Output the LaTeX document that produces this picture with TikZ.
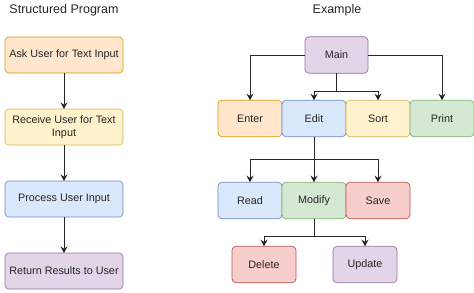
\documentclass[tikz,border=0pt]{standalone}
\usepackage{fontspec}
\setmainfont{Liberation Sans}
\usetikzlibrary{positioning, arrows.meta}

\definecolor{orangefill}{HTML}{FFE6CC}\definecolor{orangeline}{HTML}{D79B00}
\definecolor{yellowfill}{HTML}{FFF2CC}\definecolor{yellowline}{HTML}{D6B656}
\definecolor{bluefill}{HTML}{DAE8FC}\definecolor{blueline}{HTML}{6C8EBF}
\definecolor{purplefill}{HTML}{E1D5E7}\definecolor{purpleline}{HTML}{9673A6}
\definecolor{greenfill}{HTML}{D5E8D4}\definecolor{greenline}{HTML}{82B366}
\definecolor{redfill}{HTML}{F8CECC}\definecolor{redline}{HTML}{B85450}

\begin{document}
\begin{tikzpicture}[
        x=1pt, y=1pt,
        node distance=36pt and 0pt,
        font=\fontsize{10.8}{13}\selectfont,
        % Define styles for the nodes
        step box/.style={rectangle, rounded corners=4pt, line width=0.7pt, minimum width=118pt, minimum height=36pt, inner sep=2pt, outer sep=0pt, align=center, text=black!85},
        item/.style={rectangle, rounded corners=4pt, line width=0.7pt, minimum width=64pt, minimum height=36.5pt, outer sep=0pt, text=black!85},
        orangebox/.style={draw=orangeline, fill=orangefill},
        yellowbox/.style={draw=yellowline, fill=yellowfill},
        bluebox/.style={draw=blueline, fill=bluefill},
        purplebox/.style={draw=purpleline, fill=purplefill},
        greenbox/.style={draw=greenline, fill=greenfill},
        redbox/.style={draw=redline, fill=redfill},
        title/.style={font=\fontsize{12.5}{15}\selectfont, text=black!85},
        myarrow/.style={-{Stealth[length=6.5pt, width=7pt]}, line width=1pt, black!85}
    ]
        \useasboundingbox (0,0) rectangle (474,-292);

        % --- Titles ---
        \node[title] (lefttitle) at (64,-10) {Structured Program};
        \node[title] (righttitle) at (337,-10) {Example};

        % --- Structured program column ---
        \node[step box, orangebox] (ask) at (64,-55) {Ask User for Text Input};
        \node[step box, yellowbox, below=of ask] (receive) {Receive User for Text\\Input};
        \node[step box, bluebox, below=of receive] (process) {Process User Input};
        \node[step box, purplebox, below=of process] (return) {Return Results to User};

        % --- Example tree ---
        \node[item, purplebox, minimum width=63pt] (main) at (336.5,-55) {Main};

        \node[item, orangebox] (enter) at (250,-118.5) {Enter};
        \node[item, bluebox, right=of enter] (edit) {Edit};
        \node[item, yellowbox, right=of edit] (sort) {Sort};
        \node[item, greenbox, right=of sort] (print) {Print};

        \node[item, bluebox] (read) at (250,-200.5) {Read};
        \node[item, greenbox, right=of read] (modify) {Modify};
        \node[item, redbox, right=of modify] (save) {Save};

        \node[item, redbox] (delete) at (264,-264.5) {Delete};
        \node[item, purplebox] (update) at (365,-264.5) {Update};

        % --- Edges ---
        \draw[myarrow] (ask) -- (receive);
        \draw[myarrow] (receive) -- (process);
        \draw[myarrow] (process) -- (return);

        \draw[myarrow] (main.west) -| (enter.north);
        \draw[myarrow] (main.east) -| (print.north);
        \draw[myarrow] (main.south) -- ++(0,-18pt) -| (edit.north);
        \draw[myarrow] (main.south) -- ++(0,-18pt) -| (sort.north);

        \draw[myarrow] (edit.south) -- ++(0,-23pt) -| (read.north);
        \draw[myarrow] (edit.south) -- (modify.north);
        \draw[myarrow] (edit.south) -- ++(0,-23pt) -| (save.north);

        \draw[myarrow] (modify.south) -- ++(0,-18pt) -| (delete.north);
        \draw[myarrow] (modify.south) -- ++(0,-18pt) -| (update.north);

    \end{tikzpicture}
\end{document}
